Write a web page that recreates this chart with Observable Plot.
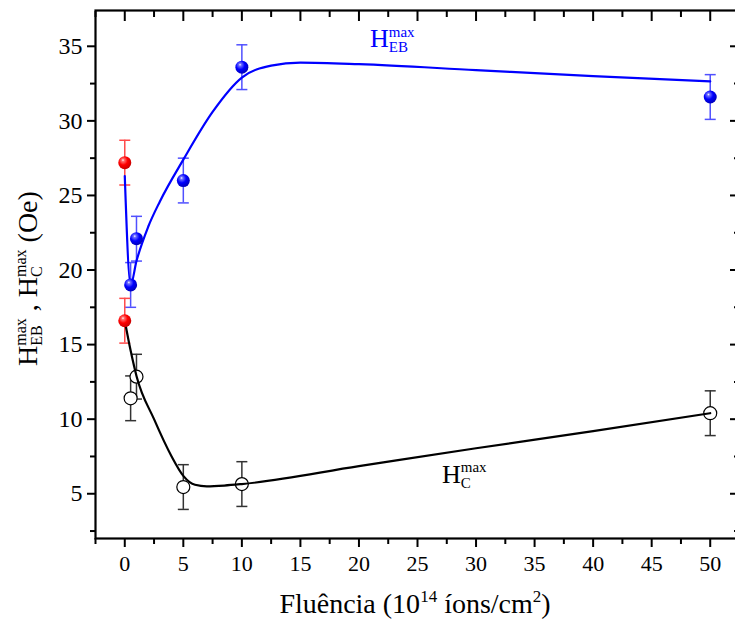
<!DOCTYPE html>
<html>
<head>
<meta charset="utf-8">
<script src="https://cdn.jsdelivr.net/npm/d3@7"></script>
<script src="https://cdn.jsdelivr.net/npm/@observablehq/plot@0.6"></script>
<style>
  body { margin: 0; background: #ffffff; overflow: hidden; }
  #chart svg { overflow: visible; }
</style>
</head>
<body>
<div id="chart"></div>
<script>
// ---- data ----
const fluence = [0.5, 1, 5, 10, 50];
const hebValues = [19.0, 22.1, 26.0, 33.6, 31.6];
const hebErrors = [1.5, 1.5, 1.5, 1.5, 1.5];
const hcValues = [11.4, 12.85, 5.45, 5.65, 10.4];
const hcErrors = [1.5, 1.5, 1.5, 1.5, 1.5];

const refFluence = [0];
const refHeb = [27.2];
const refHebErrors = [1.5];
const refHc = [16.6];
const refHcErrors = [1.5];

// fitted (smooth) guide curves
const hebFitX = [0, 0.5, 1, 2, 3, 5, 7.5, 10, 12.5, 15, 20, 30, 40, 50];
const hebFitY = [26.3, 19.0, 20.6, 22.9, 24.6, 27.4, 30.6, 32.9, 33.7, 33.9, 33.8, 33.4, 33.0, 32.65];
const hcFitX = [0, 0.5, 1, 2.5, 4, 5, 6, 7, 8.5, 10, 20, 30, 40, 50];
const hcFitY = [16.6, 14.6, 12.9, 10.0, 7.5, 6.2, 5.6, 5.5, 5.55, 5.65, 6.85, 8.05, 9.2, 10.4];

const xMajorTicks = [0, 5, 10, 15, 20, 25, 30, 35, 40, 45, 50];
const xMinorTicks = [-2.5, 2.5, 7.5, 12.5, 17.5, 22.5, 27.5, 32.5, 37.5, 42.5, 47.5];
const yMajorTicks = [5, 10, 15, 20, 25, 30, 35];
const yMinorTicks = [2.5, 7.5, 12.5, 17.5, 22.5, 27.5, 32.5];

// ---- tables ----
const hebRows = fluence.map((f, i) => ({f, v: hebValues[i], e: hebErrors[i]}));
const hcRows = fluence.map((f, i) => ({f, v: hcValues[i], e: hcErrors[i]}));
const refHebRows = refFluence.map((f, i) => ({f, v: refHeb[i], e: refHebErrors[i]}));
const refHcRows = refFluence.map((f, i) => ({f, v: refHc[i], e: refHcErrors[i]}));
const hebFit = hebFitX.map((x, i) => ({x, y: hebFitY[i]}));
const hcFit = hcFitX.map((x, i) => ({x, y: hcFitY[i]}));

const FONT = "'Liberation Serif', 'Times New Roman', Times, serif";
const BLUE = "#0000ff";
const BLUE_BAR = "#5050ff";
const RED_BAR = "#ff4a4a";
const BLACK_BAR = "#333333";

const capSymbol = {
  draw(context, size) {
    const r = Math.sqrt(size / Math.PI);
    context.moveTo(-r, 0);
    context.lineTo(r, 0);
  }
};

function errorBars(rows, color) {
  return [
    Plot.ruleX(rows, {x: "f", y1: d => d.v - d.e, y2: d => d.v + d.e, stroke: color, strokeWidth: 1.5}),
    Plot.dot(rows, {x: "f", y: d => d.v + d.e, symbol: capSymbol, r: 5.5, fill: "none", stroke: color, strokeWidth: 1.5}),
    Plot.dot(rows, {x: "f", y: d => d.v - d.e, symbol: capSymbol, r: 5.5, fill: "none", stroke: color, strokeWidth: 1.5})
  ];
}

// gradient definitions for the shaded spheres
function defsMark() {
  const g = d3.create("svg:g");
  const defs = g.append("defs");
  const mk = (id, light, mid, dark) => {
    const rg = defs.append("radialGradient").attr("id", id)
      .attr("cx", "0.4").attr("cy", "0.38").attr("r", "0.68").attr("fx", "0.36").attr("fy", "0.3");
    rg.append("stop").attr("offset", "0").attr("stop-color", "#ffffff");
    rg.append("stop").attr("offset", "0.15").attr("stop-color", light);
    rg.append("stop").attr("offset", "0.5").attr("stop-color", mid);
    rg.append("stop").attr("offset", "1").attr("stop-color", dark);
  };
  mk("sphereBlue", "#7070ff", "#0000ff", "#0000b0");
  mk("sphereRed", "#ff7070", "#ff0000", "#c00000");
  return g.node();
}

// A text line made of runs; each run: [string, fontSize, baselineOffset, visible]
function flowText(parent, {x, y, rotate = 0, anchor = "start", color = "black", runs}) {
  const t = parent.append("text")
    .attr("transform", `translate(${x},${y}) rotate(${rotate})`)
    .attr("text-anchor", anchor)
    .attr("font-family", FONT)
    .style("font-family", FONT)
    .style("white-space", "pre")
    .attr("fill", color);
  let base = 0;
  for (const [s, size, off, visible] of runs) {
    t.append("tspan")
      .attr("dy", off - base)
      .style("font-size", `${size}px`)
      .attr("fill-opacity", visible === false ? 0 : 1)
      .text(s);
    base = off;
  }
  return t;
}

// stacked super/subscript labels drawn in layers with identical spacing
function stackedLabel(parent, {x, y, rotate = 0, color = "black", layers}) {
  for (const runs of layers) flowText(parent, {x, y, rotate, color, runs});
}

function labelsMark() {
  const g = d3.create("svg:g");
  const M = 28, S = 16;
  stackedLabel(g, {
    x: 37, y: 366, rotate: -90,
    layers: [
      [["H", M, 0], ["max", S, -11], [" , H", M, 0], ["max", S, -11], [" (Oe)", M, 0]],
      [["H", M, 0, false], ["EB", S, 5]],
      [["H", M, 0, false], ["max", S, -11, false], [" , H", M, 0, false], ["C", S, 5]]
    ]
  });
  flowText(g, {
    x: 415, y: 613, anchor: "middle",
    runs: [["Fluência (10", M, 0], ["14", 17, -11], [" íons/cm", M, 0], ["2", 17, -11], [")", M, 0]]
  });
  stackedLabel(g, {
    x: 370, y: 47, color: BLUE,
    layers: [
      [["H", 26, 0], ["max", 15, -10]],
      [["H", 26, 0, false], ["EB", 15, 5]]
    ]
  });
  stackedLabel(g, {
    x: 442, y: 483, color: "black",
    layers: [
      [["H", 26, 0], ["max", 15, -11]],
      [["H", 26, 0, false], ["C", 15, 5]]
    ]
  });
  return g.node();
}

const X_TICK_FONT = 22;
const Y_TICK_FONT = 24;

const chart = Plot.plot({
  width: 735,
  height: 625,
  marginLeft: 95,
  marginRight: -4,
  marginTop: 10,
  marginBottom: 87,
  style: {fontFamily: FONT, fontSize: "22px", background: "#ffffff", color: "black"},
  x: {domain: [-2.5, 52.5]},
  y: {domain: [2, 37.4]},
  marks: [
    defsMark,
    Plot.axisX({anchor: "bottom", ticks: xMajorTicks, tickSize: 9, tickPadding: 8, tickFormat: d => String(d), fontSize: X_TICK_FONT, fontFamily: FONT, strokeWidth: 2, label: null}),
    Plot.axisX({anchor: "bottom", ticks: xMinorTicks, tickSize: 6, tickFormat: () => "", strokeWidth: 2, label: null}),
    Plot.axisX({anchor: "top", ticks: xMajorTicks, tickSize: -10, tickFormat: () => "", strokeWidth: 2, label: null}),
    Plot.axisX({anchor: "top", ticks: xMinorTicks, tickSize: -6, tickFormat: () => "", strokeWidth: 2, label: null}),
    Plot.axisY({anchor: "left", ticks: yMajorTicks, tickSize: 8, tickPadding: 5, tickFormat: d => String(d), fontSize: Y_TICK_FONT, fontFamily: FONT, strokeWidth: 2, label: null}),
    Plot.axisY({anchor: "left", ticks: yMinorTicks, tickSize: 5, tickFormat: () => "", strokeWidth: 2, label: null}),
    Plot.axisY({anchor: "right", ticks: yMajorTicks, tickSize: -10, tickFormat: () => "", strokeWidth: 2, label: null}),
    Plot.axisY({anchor: "right", ticks: yMinorTicks, tickSize: -6, tickFormat: () => "", strokeWidth: 2, label: null}),
    Plot.frame({stroke: "black", strokeWidth: 2.2}),
    ...errorBars(hcRows, BLACK_BAR),
    ...errorBars(hebRows, BLUE_BAR),
    ...errorBars(refHebRows, RED_BAR),
    ...errorBars(refHcRows, RED_BAR),
    Plot.dot(hcRows, {x: "f", y: "v", r: 6.5, fill: "white", stroke: "black", strokeWidth: 1.2}),
    Plot.line(hcFit, {x: "x", y: "y", curve: "monotone-x", stroke: "black", strokeWidth: 2.2}),
    Plot.line(hebFit, {x: "x", y: "y", curve: "monotone-x", stroke: BLUE, strokeWidth: 2.2}),
    Plot.dot(hebRows, {x: "f", y: "v", r: 6.5, fill: "url(#sphereBlue)"}),
    Plot.dot(refHebRows, {x: "f", y: "v", r: 6.5, fill: "url(#sphereRed)"}),
    Plot.dot(refHcRows, {x: "f", y: "v", r: 6.5, fill: "url(#sphereRed)"}),
    labelsMark
  ]
});
document.getElementById("chart").appendChild(chart);
</script>
</body>
</html>
